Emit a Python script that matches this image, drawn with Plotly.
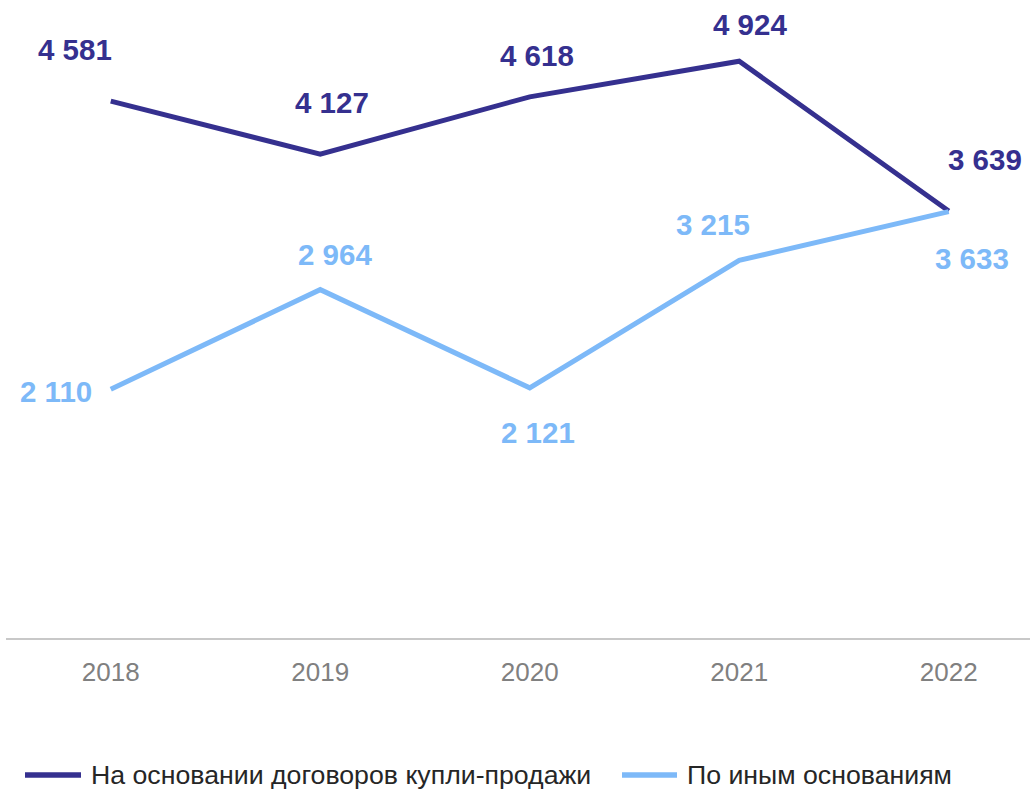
import plotly.graph_objects as go

years = ["2018", "2019", "2020", "2021", "2022"]
sales = [4581, 4127, 4618, 4924, 3639]
other = [2110, 2964, 2121, 3215, 3633]
sales_name = "На основании договоров купли-продажи"
other_name = "По иным основаниям"

dark = "#35308F"
light = "#7DB9F8"
FONT = "Liberation Sans, Arial"

def fmt(v):
    return f"{v:,}".replace(",", " ")

fig = go.Figure()
fig.add_trace(go.Scatter(x=years, y=sales, mode="lines", name=sales_name,
                         line=dict(color=dark, width=5)))
fig.add_trace(go.Scatter(x=years, y=other, mode="lines", name=other_name,
                         line=dict(color=light, width=5)))

sales_off = [(-36, 52), (12, 52), (7, 41), (11, 37), (36, 51)]
other_off = [(-55, -2), (15, 35), (8, -45), (-26, 36), (23, -47)]

ann = []
for i, (v, (dx, dy)) in enumerate(zip(sales, sales_off)):
    ann.append(dict(x=i, y=v, xref="x", yref="y", text="<b>" + fmt(v) + "</b>",
                    showarrow=False, xshift=dx, yshift=dy,
                    font=dict(family=FONT, size=29.5, color=dark)))
for i, (v, (dx, dy)) in enumerate(zip(other, other_off)):
    ann.append(dict(x=i, y=v, xref="x", yref="y", text="<b>" + fmt(v) + "</b>",
                    showarrow=False, xshift=dx, yshift=dy,
                    font=dict(family=FONT, size=29.5, color=light)))

# manual legend (pixel -> paper conversion)
L, W, T, H = 6, 1024, 10, 628
def px(xp):
    return (xp - L) / W
def py(yp):
    return (T + H - yp) / H

shapes = []
legend_items = [(sales_name, dark, 25, 81, 89), (other_name, light, 622, 677, 685)]
ly = 775
for name, col, x0, x1, xt in legend_items:
    shapes.append(dict(type="line", xref="paper", yref="paper",
                       x0=px(x0), x1=px(x1), y0=py(ly), y1=py(ly),
                       line=dict(color=col, width=5.5)))
    ann.append(dict(x=px(xt), y=py(ly), xref="paper", yref="paper", text=name,
                    showarrow=False, xanchor="left", yanchor="middle",
                    font=dict(family=FONT, size=26.7, color="#262626")))

fig.update_layout(
    width=1030, height=789,
    margin=dict(l=L, r=0, t=T, b=789 - T - H, autoexpand=False),
    paper_bgcolor="white", plot_bgcolor="white",
    showlegend=False,
    annotations=ann,
    shapes=shapes,
    xaxis=dict(type="category", range=[-0.5, 4.388], showgrid=False, zeroline=False,
               showline=True, linecolor="#C8C8C8", linewidth=1.5, ticks="",
               ticklabelstandoff=10,
               tickfont=dict(family=FONT, size=26, color="#808080")),
    yaxis=dict(range=[-25, 5363], visible=False, showgrid=False, zeroline=False),
)

fig.write_html("out.html", config={"displayModeBar": False},
               post_script="document.body.style.margin='0';document.body.style.overflow='hidden';")
